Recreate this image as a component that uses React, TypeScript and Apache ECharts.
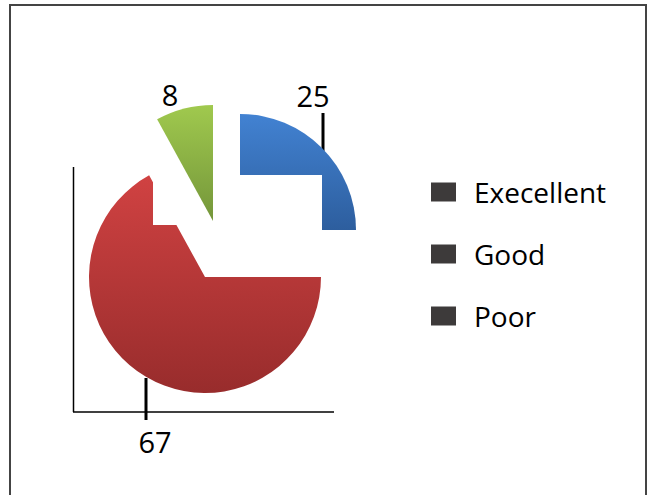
import React, { useEffect, useRef } from "react";
import * as echarts from "echarts";

const categories = ["Execellent", "Good", "Poor"];
const values = [25, 67, 8];
const topColors = ["#4282d2", "#d04242", "#a0c94e"];
const bottomColors = ["#2d5e9e", "#982c2c", "#74963a"];

// each slice is exploded to its own centre
const centers: [number, number][] = [
  [240, 230],
  [205, 277],
  [213, 221],
];
const labelPos: [number, number][] = [
  [313, 95],
  [155, 441],
  [170, 94],
];
const labelLines: ([number, number][] | null)[] = [
  [
    [323, 151],
    [323, 132],
    [323, 113],
  ],
  [
    [146, 378],
    [146, 399],
    [146, 420],
  ],
  null,
];

const FONT = "'Open Sans', 'Noto Sans', sans-serif";

function makeSeries(idx: number, z: number) {
  return {
    type: "pie",
    name: categories[idx],
    z,
    silent: true,
    center: centers[idx],
    radius: 116,
    startAngle: 90,
    clockwise: true,
    avoidLabelOverlap: false,
    legendHoverLink: false,
    emphasis: { disabled: true },
    itemStyle: { borderWidth: 0 },
    data: categories.map((name, i) => {
      const visible = i === idx;
      return {
        name,
        value: values[i],
        itemStyle: visible
          ? {
              color: new echarts.graphic.LinearGradient(0, 0, 0, 1, [
                { offset: 0, color: topColors[i] },
                { offset: 1, color: bottomColors[i] },
              ]),
            }
          : { color: "rgba(0,0,0,0)" },
        label: {
          show: visible,
          formatter: "{c}",
          fontFamily: FONT,
          fontSize: 29,
          color: "#000",
        },
        labelLine: {
          show: visible && labelLines[i] !== null,
          lineStyle: { color: "#000", width: 3 },
        },
      };
    }),
    labelLayout: (params: any) => {
      if (params.dataIndex !== idx) return {};
      const [x, y] = labelPos[idx];
      const out: any = { x, y, align: "center", verticalAlign: "middle" };
      if (labelLines[idx]) out.labelLinePoints = labelLines[idx];
      return out;
    },
  };
}

export default function App() {
  const ref = useRef<HTMLDivElement>(null);
  useEffect(() => {
    if (!ref.current) return;
    const chart = echarts.init(ref.current, undefined, { renderer: "svg" });
    chart.setOption({
      animation: false,
      backgroundColor: "#fff",
      legend: {
        orient: "vertical",
        left: 431,
        top: 177,
        padding: 0,
        icon: "rect",
        itemWidth: 25,
        itemHeight: 19,
        itemGap: 32,
        selectedMode: false,
        data: categories,
        itemStyle: { color: "#3d3a3a", borderWidth: 0 },
        textStyle: {
          fontFamily: FONT,
          fontSize: 28,
          color: "#000",
          lineHeight: 30,
          padding: [0, 0, 0, 13],
        },
      },
      graphic: [
        {
          type: "rect",
          z: 0,
          shape: { x: 10, y: 5, width: 636, height: 510 },
          style: { fill: "none", stroke: "#444", lineWidth: 2 },
        },
        {
          type: "line",
          z: 0,
          shape: { x1: 73.5, y1: 167, x2: 73.5, y2: 412 },
          style: { stroke: "#000", lineWidth: 1.5 },
        },
        {
          type: "line",
          z: 0,
          shape: { x1: 73, y1: 412, x2: 334, y2: 412 },
          style: { stroke: "#000", lineWidth: 1.5 },
        },
        // white backdrop of the red slice, drawn over the blue one
        {
          type: "rect",
          z: 2,
          shape: { x: 238, y: 175, width: 84, height: 60 },
          style: { fill: "#fff" },
        },
        // white backdrop of the green slice, drawn over the red one
        {
          type: "rect",
          z: 4,
          shape: { x: 153, y: 100, width: 62, height: 125 },
          style: { fill: "#fff" },
        },
      ],
      series: [makeSeries(0, 1), makeSeries(1, 3), makeSeries(2, 5)],
    });
    return () => chart.dispose();
  }, []);
  return (
    <div
      ref={ref}
      style={{ position: "fixed", left: 0, top: 0, width: 650, height: 495 }}
    />
  );
}
